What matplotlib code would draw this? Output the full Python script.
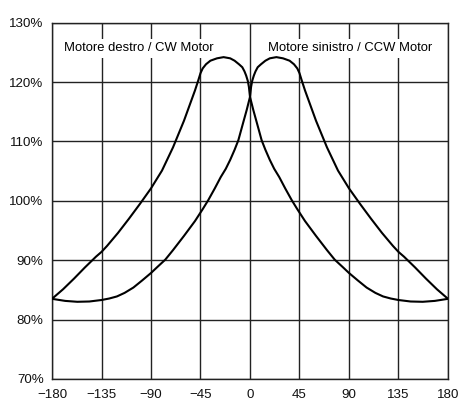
import matplotlib
matplotlib.use("Agg")
import matplotlib.pyplot as plt

# values (angle in degrees, torque in %)
cw_angle = [-180, -170, -160, -150, -140, -135, -130, -120, -110, -100,
            -90, -80, -70, -60, -50, -47, -45, -43, -40, -36,
            -30, -24, -18, -14, -10, -7, -5, -3.5, -2, -1,
            0, 3, 6, 10.6, 14, 18, 22, 26.6, 32, 38,
            43, 50, 60, 70, 77, 84, 90, 98, 106, 114,
            121, 128, 135, 146, 157, 168, 180]
cw_torque = [83.5, 85.1, 86.9, 88.8, 90.6, 91.4, 92.4, 94.6, 97.0, 99.5,
             102.1, 105.1, 109.0, 113.5, 118.6, 120.3, 121.5, 122.3, 123.0, 123.6,
             124.0, 124.2, 124.0, 123.6, 123.0, 122.5, 121.8, 121.1, 120.2, 119.2,
             117.5, 115.3, 113.3, 110.2, 108.6, 106.9, 105.4, 104.0, 102.1, 100.1,
             98.6, 96.6, 94.1, 91.7, 90.1, 88.9, 87.85, 86.6, 85.4, 84.5,
             83.9, 83.55, 83.3, 83.05, 83.0, 83.15, 83.5]

ccw_angle = [-180, -168, -157, -146, -135, -128, -121, -114, -106, -98,
             -90, -84, -77, -70, -60, -50, -43, -38, -32, -26.6,
             -22, -18, -14, -10.6, -6, -3, 0, 1, 2, 3.5,
             5, 7, 10, 14, 18, 24, 30, 36, 40, 43,
             45, 47, 50, 60, 70, 80, 90, 100, 110, 120,
             130, 135, 140, 150, 160, 170, 180]
ccw_torque = [83.5, 83.15, 83.0, 83.05, 83.3, 83.55, 83.9, 84.5, 85.4, 86.6,
              87.85, 88.9, 90.1, 91.7, 94.1, 96.6, 98.6, 100.1, 102.1, 104.0,
              105.4, 106.9, 108.6, 110.2, 113.3, 115.3, 117.5, 119.2, 120.2, 121.1,
              121.8, 122.5, 123.0, 123.6, 124.0, 124.2, 124.0, 123.6, 123.0, 122.3,
              121.5, 120.3, 118.6, 113.5, 109.0, 105.1, 102.1, 99.5, 97.0, 94.6,
              92.4, 91.4, 90.6, 88.8, 86.9, 85.1, 83.5]

x_ticks = [-180, -135, -90, -45, 0, 45, 90, 135, 180]
y_ticks = [70, 80, 90, 100, 110, 120, 130]
labels = ["Motore destro / CW Motor", "Motore sinistro / CCW Motor"]

plt.rcParams["font.family"] = ["Liberation Sans", "DejaVu Sans"]

fig = plt.figure(figsize=(4.59, 4.01), dpi=100)
ax = fig.add_axes([0.1133, 0.0549, 0.8627, 0.8885])

for xs, ys in [(cw_angle, cw_torque), (ccw_angle, ccw_torque)]:
    ax.plot(xs, ys, color="black", lw=1.5, zorder=3,
            solid_joinstyle="round", solid_capstyle="round")

ax.set_xlim(-180, 180)
ax.set_ylim(70, 130)
ax.set_xticks(x_ticks)
ax.set_xticklabels([str(t).replace("-", "\u2212") for t in x_ticks])
ax.set_yticks(y_ticks)
ax.set_yticklabels([f"{t}%" for t in y_ticks])
ax.tick_params(length=0, labelsize=9.6, colors="#111")
ax.tick_params(axis="x", pad=7)
ax.tick_params(axis="y", pad=6)
ax.grid(True, color="#222", lw=1.0)
ax.set_axisbelow(True)
for s in ax.spines.values():
    s.set_color("#222")
    s.set_linewidth(1.0)

box = dict(facecolor="white", edgecolor="none", pad=2.5)
ax.text(-168.8, 125.7, labels[0], fontsize=9.4, ha="left", va="center", bbox=box, zorder=2)
ax.text(16.5, 125.7, labels[1], fontsize=9.4, ha="left", va="center", bbox=box, zorder=2)

fig.savefig("out.png", dpi=100)
